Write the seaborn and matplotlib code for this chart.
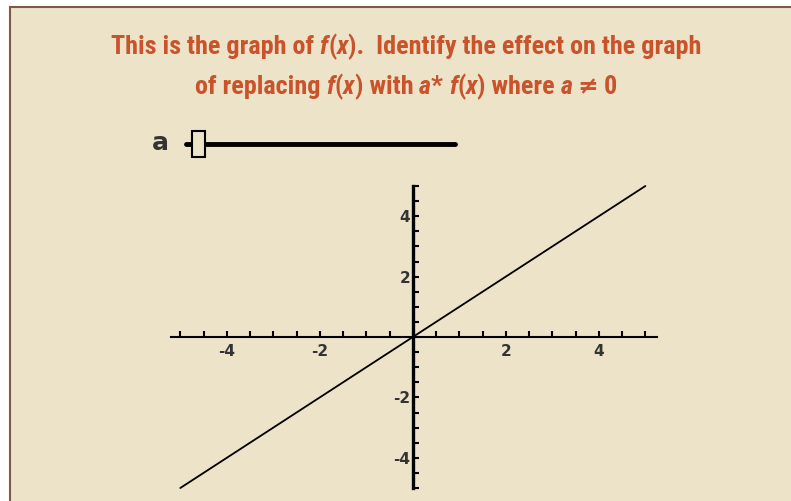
"""Graph of f(x) = x with the 'a' slider, as in the transformation worksheet."""

import matplotlib

matplotlib.use("Agg")
import matplotlib.pyplot as plt
import seaborn as sns
from matplotlib import font_manager as fm
from matplotlib.offsetbox import AnchoredOffsetbox, HPacker, TextArea
from matplotlib.patches import Rectangle
from matplotlib.ticker import FixedFormatter, FixedLocator

# data
line_x = [-5, 5]
line_y = [-5, 5]
x_labelled = [-4, -2, 2, 4]
y_labelled = [-4, -2, 2, 4]
minor_steps = [i / 2 for i in range(-10, 11)]

# title pieces: (text, style) with style "r" upright, "i" italic, "s" symbol
title_1 = [("This is the graph of ", "r"), ("f", "i"), ("(", "r"), ("x", "i"),
           (").  Identify the effect on the graph", "r")]
title_2 = [("of replacing ", "r"), ("f", "i"), ("(", "r"), ("x", "i"), (") with ", "r"),
           ("a", "i"), ("* ", "r"), ("f", "i"), ("(", "r"), ("x", "i"),
           (") where ", "r"), ("a", "i"), ("\u2009\u2260\u2009", "s"), ("0", "r")]

BG = "#ede3c9"
BORDER = "#7d5a47"
TITLE = "#c9532b"
INK = "#333333"

W, H = 791, 501
TITLE_WIDTH = 588   # px, first line in the picture
TITLE_CAP = 20      # px, cap height in the picture

FAMILIES = ["DejaVu Sans", "Noto Sans", "Liberation Sans", "Liberation Sans Narrow",
            "Roboto", "Roboto Condensed", "Open Sans", "Lato", "Inter"]


def fx(px):
    return px / W


def fy(py):
    return 1 - py / H


def title_font(renderer):
    """Pick the installed bold face whose shape best matches the narrow title."""
    line = "".join(t for t, _ in title_1)
    faces = set()
    for entry in fm.fontManager.ttflist:
        weight = entry.weight if isinstance(entry.weight, int) else 700 * (entry.weight == "bold")
        if entry.name in FAMILIES and weight >= 600 and entry.style == "normal":
            faces.add((entry.name, str(entry.stretch)))
    best = None
    for name, stretch in sorted(faces):
        prop = fm.FontProperties(family=name, weight="bold", stretch=stretch, size=20)
        width = renderer.get_text_width_height_descent(line, prop, ismath=False)[0]
        cap = renderer.get_text_width_height_descent("H", prop, ismath=False)[1]
        fitted_cap = cap * TITLE_WIDTH / width
        score = abs(fitted_cap - TITLE_CAP)
        if best is None or score < best[0]:
            best = (score, name, stretch)
    return best[1], best[2]


def build_title(fig, pieces, family, stretch, size, cy):
    boxes = []
    for txt, kind in pieces:
        if kind == "s":
            prop = fm.FontProperties(family="DejaVu Sans", weight="bold", style="oblique",
                                     size=size * 0.95)
        else:
            prop = fm.FontProperties(family=family, weight="bold", stretch=stretch,
                                     style="italic" if kind == "i" else "normal", size=size)
        boxes.append(TextArea(txt, textprops=dict(color=TITLE, fontproperties=prop)))
    pack = HPacker(children=boxes, pad=0, sep=0, align="baseline")
    anchored = AnchoredOffsetbox(loc="center", child=pack, pad=0, borderpad=0, frameon=False,
                                 bbox_to_anchor=(fx(406), cy), bbox_transform=fig.transFigure)
    fig.add_artist(anchored)
    return anchored


def main() -> None:
    sns.set_style("white")
    plt.rcParams["font.family"] = ["DejaVu Sans"]

    fig = plt.figure(figsize=(W / 100, H / 100), dpi=100)
    fig.patch.set_facecolor("white")
    fig.add_artist(Rectangle((fx(10), fy(H + 20)), 1.0, fy(7) - fy(H + 20),
                             transform=fig.transFigure, facecolor=BG,
                             edgecolor=BORDER, lw=1.5, zorder=-5))

    # title, scaled so the first line is as wide as in the picture
    renderer = fig.canvas.get_renderer()
    family, stretch = title_font(renderer)
    probe = build_title(fig, title_1, family, stretch, 20, fy(48))
    fig.canvas.draw()
    width = probe.get_window_extent(fig.canvas.get_renderer()).width
    probe.remove()
    size = 20 * TITLE_WIDTH / width
    build_title(fig, title_1, family, stretch, size, fy(47))
    build_title(fig, title_2, family, stretch, size, fy(87))

    # slider for a
    fig.text(fx(160), fy(143), "a", ha="center", va="center", fontsize=18,
             fontweight="bold", color=INK)
    fig.add_artist(plt.Line2D([fx(186), fx(455)], [fy(144), fy(144)],
                              transform=fig.transFigure, color="black", lw=3.5, zorder=2))
    fig.add_artist(Rectangle((fx(192), fy(157)), fx(205) - fx(192), fy(131) - fy(157),
                             transform=fig.transFigure, facecolor=BG,
                             edgecolor="black", lw=1.5, zorder=3))

    # the graph
    ax = fig.add_axes([fx(171), fy(488), fx(657) - fx(171), fy(186) - fy(488)])
    ax.set_facecolor("none")
    sns.lineplot(x=line_x, y=line_y, ax=ax, color="black", lw=1.3)
    for line in ax.lines:
        line.set_clip_on(False)

    ax.set_xlim(-5.2, 5.25)
    ax.set_ylim(-5, 5)
    for side in ["top", "right"]:
        ax.spines[side].set_visible(False)
    ax.spines["left"].set_position("zero")
    ax.spines["bottom"].set_position("zero")
    ax.spines["left"].set_linewidth(2.4)
    ax.spines["bottom"].set_linewidth(1.5)
    for side in ["left", "bottom"]:
        ax.spines[side].set_color("black")

    ax.xaxis.set_major_locator(FixedLocator(x_labelled))
    ax.xaxis.set_major_formatter(FixedFormatter([str(v) for v in x_labelled]))
    ax.yaxis.set_major_locator(FixedLocator(y_labelled))
    ax.yaxis.set_major_formatter(FixedFormatter([str(v) for v in y_labelled]))
    ax.xaxis.set_minor_locator(FixedLocator(minor_steps))
    ax.yaxis.set_minor_locator(FixedLocator(minor_steps))

    ax.tick_params(axis="both", which="both", direction="in", length=4, width=1.5,
                   color="black", labelsize=11, labelcolor=INK, bottom=True, left=True)
    ax.tick_params(axis="x", which="major", pad=5)
    ax.tick_params(axis="y", which="major", pad=2)
    for label in ax.get_xticklabels() + ax.get_yticklabels():
        label.set_fontweight("bold")

    fig.savefig("out.png", dpi=100, facecolor=fig.get_facecolor())
    plt.close(fig)


if __name__ == "__main__":
    main()
